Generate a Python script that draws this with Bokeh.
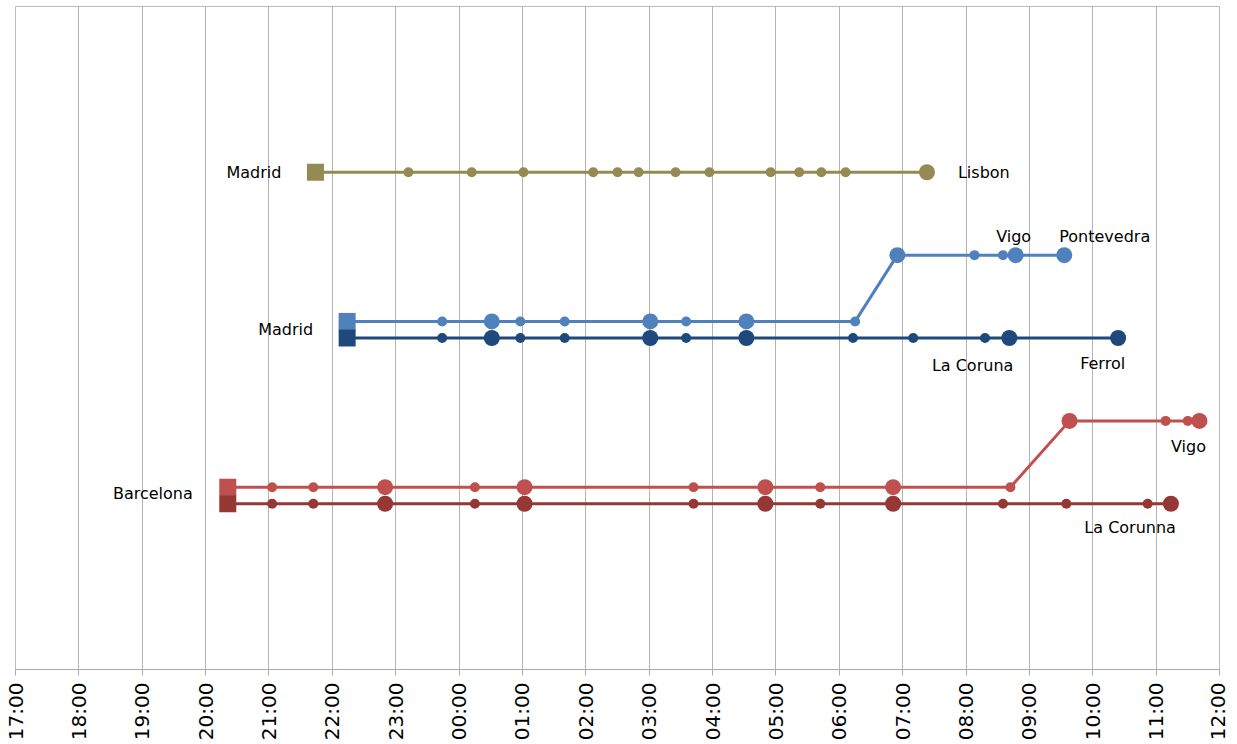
import math
import pandas as pd
from bokeh.plotting import figure
from bokeh.models import ColumnDataSource, FixedTicker, DatetimeTickFormatter, Range1d
from bokeh.embed import file_html
from bokeh.resources import INLINE
from bokeh.core.properties import value

# ---------------- data ----------------
# kinds: "start" (square), "stop" (small circle), "major" (large circle)
lisbon_times = ["21:44", "23:12", "00:12", "01:01", "02:07", "02:30", "02:50",
                "03:25", "03:57", "04:55", "05:22", "05:43", "06:06", "07:23"]
lisbon_levels = [7.5] * 14
lisbon_kinds = ["start"] + ["stop"] * 12 + ["major"]

vigo_m_times = ["22:14", "23:44", "00:31", "00:58", "01:40", "03:01", "03:35",
                "04:32", "06:15", "06:55", "08:08", "08:35", "08:47", "09:33"]
vigo_m_levels = [5.25] * 9 + [6.25] * 5
vigo_m_kinds = ["start", "stop", "major", "stop", "stop", "major", "stop",
                "major", "stop", "major", "stop", "stop", "major", "major"]

ferrol_times = ["22:14", "23:44", "00:31", "00:58", "01:40", "03:01", "03:35",
                "04:32", "06:13", "07:10", "08:18", "08:41", "10:24"]
ferrol_levels = [5.0] * 13
ferrol_kinds = ["start", "stop", "major", "stop", "stop", "major", "stop",
                "major", "stop", "stop", "stop", "major", "major"]

vigo_b_times = ["20:21", "21:03", "21:42", "22:50", "00:15", "01:02", "03:42",
                "04:50", "05:42", "06:51", "08:42", "09:38", "11:09", "11:30", "11:41"]
vigo_b_levels = [2.75] * 11 + [3.75] * 4
vigo_b_kinds = ["start", "stop", "stop", "major", "stop", "major", "stop",
                "major", "stop", "major", "stop", "major", "stop", "stop", "major"]

corunna_times = ["20:21", "21:03", "21:42", "22:50", "00:15", "01:02", "03:42",
                 "04:50", "05:42", "06:51", "08:35", "09:35", "10:52", "11:14"]
corunna_levels = [2.5] * 14
corunna_kinds = ["start", "stop", "stop", "major", "stop", "major", "stop",
                 "major", "stop", "major", "stop", "stop", "stop", "major"]

route_colors = ["#948A54", "#4F81BD", "#1F497D", "#C0504D", "#953735"]

# station labels: (text, route index, stop index)
label_texts = ["Madrid", "Lisbon", "Madrid", "Vigo", "Pontevedra", "La Coruna",
               "Ferrol", "Barcelona", "Vigo", "La Corunna"]
label_route = [0, 0, 1, 1, 1, 2, 2, 3, 3, 4]
label_stop = [0, 13, 0, 12, 13, 11, 12, 0, 14, 13]

tick_hours = ["17:00", "18:00", "19:00", "20:00", "21:00", "22:00", "23:00",
              "00:00", "01:00", "02:00", "03:00", "04:00", "05:00", "06:00",
              "07:00", "08:00", "09:00", "10:00", "11:00", "12:00"]


def to_dt(t):
    h, m = map(int, t.split(":"))
    day = 1 if h >= 17 else 2
    return pd.Timestamp(2024, 1, day, h, m)


def ms(ts):
    return ts.value / 1e6


routes = [
    (lisbon_times, lisbon_levels, lisbon_kinds),
    (vigo_m_times, vigo_m_levels, vigo_m_kinds),
    (ferrol_times, ferrol_levels, ferrol_kinds),
    (vigo_b_times, vigo_b_levels, vigo_b_kinds),
    (corunna_times, corunna_levels, corunna_kinds),
]

tick_ms = [ms(to_dt(t)) for t in tick_hours]

p = figure(width=1229, height=743, x_axis_type="datetime",
           x_range=Range1d(tick_ms[0], tick_ms[-1]), y_range=Range1d(0, 10),
           output_backend="svg", toolbar_location=None, y_axis_location=None,
           min_border_left=15, min_border_right=10, min_border_top=6)

p.background_fill_color = "white"
p.outline_line_color = "#bbbbbb"
p.outline_line_width = 1
p.ygrid.visible = False
p.xgrid.grid_line_color = "#b4b4b4"
p.xgrid.grid_line_width = 1
p.xaxis.ticker = FixedTicker(ticks=tick_ms)
fmt = "%H:%M"
p.xaxis.formatter = DatetimeTickFormatter(hours=fmt, hourmin=fmt, minutes=fmt,
                                          minsec=fmt, days=fmt, months=fmt, years=fmt)
p.xaxis.major_label_orientation = math.pi / 2
p.xaxis.major_label_text_font = "DejaVu Sans"
p.xaxis.major_label_text_font_size = "20px"
p.xaxis.major_label_text_color = "#000000"
p.xaxis.major_label_standoff = 7
p.xaxis.axis_line_color = "#aaaaaa"
p.xaxis.major_tick_line_color = "#aaaaaa"
p.xaxis.major_tick_out = 6
p.xaxis.major_tick_in = 0
p.xaxis.minor_tick_line_color = None

for (times, levels, kinds), color in zip(routes, route_colors):
    xs = [to_dt(t) for t in times]
    src = ColumnDataSource(dict(x=xs, y=levels, kind=kinds))
    p.line("x", "y", source=src, line_color=color, line_width=3)
    sq = [i for i, k in enumerate(kinds) if k == "start"]
    sm = [i for i, k in enumerate(kinds) if k == "stop"]
    mj = [i for i, k in enumerate(kinds) if k == "major"]
    p.scatter([xs[i] for i in sq], [levels[i] for i in sq], marker="square",
              size=17, fill_color=color, line_color=None)
    p.scatter([xs[i] for i in sm], [levels[i] for i in sm], marker="circle",
              size=10, fill_color=color, line_color=None)
    p.scatter([xs[i] for i in mj], [levels[i] for i in mj], marker="circle",
              size=16, fill_color=color, line_color=None)

# label placement styles (pixel offsets / alignment)
label_align = ["right", "left", "right", "center", "left", "right", "right", "right", "center", "right"]
label_dx = [-34, 31, -34, -2, -5, 4, 7, -35, -11, 5]
label_dy = [0, 0, 8, -19, -19, 27, 25, 6, 26, 24]

for txt, r, s, al, dx, dy in zip(label_texts, label_route, label_stop, label_align, label_dx, label_dy):
    times, levels, kinds = routes[r]
    p.text([to_dt(times[s])], [levels[s]], text=[txt], text_align=al,
           text_baseline="middle", x_offset=dx, y_offset=dy,
           text_font=value("DejaVu Sans"), text_font_size="16px", text_color="#000000")

open("out.html", "w").write(file_html(p, INLINE))
